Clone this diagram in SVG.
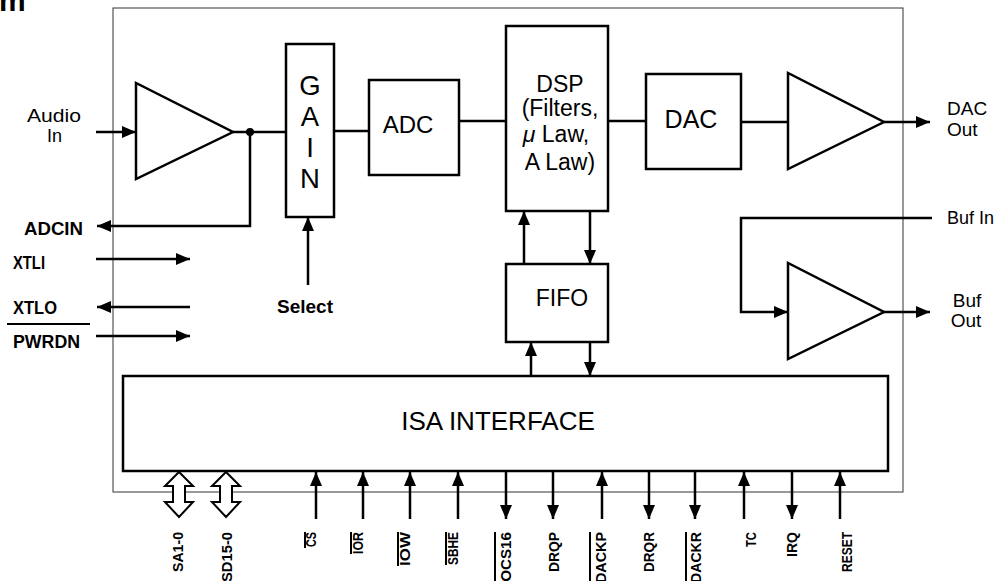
<svg xmlns="http://www.w3.org/2000/svg" width="1000" height="581" viewBox="0 0 1000 581">
<style>
.box{fill:#fff;stroke:#000;stroke-width:2.5}
.amp{fill:#fff;stroke:#000;stroke-width:2.5;stroke-linejoin:miter}
.w{fill:none;stroke:#000;stroke-width:2.5}
.bi{fill:#fff;stroke:#000;stroke-width:2;stroke-linejoin:miter}
.bar{stroke:#000;stroke-width:2}
text{font-family:"Liberation Sans",Arial,sans-serif;fill:#000}
.pin{font-size:14px;font-weight:bold;text-anchor:end}
.lbl{font-size:18px}
.lb{font-size:18px;font-weight:bold}
.big{font-size:24px;text-anchor:middle}
</style>
<defs>
<marker id="ah" viewBox="0 0 14 12" refX="14" refY="6" markerWidth="14" markerHeight="12" markerUnits="userSpaceOnUse" orient="auto"><path d="M0,0 L14,6 L0,12 z" fill="#000"/></marker>
</defs>
<rect width="1000" height="581" fill="#fff"/>
<text x="-1" y="11" style="font-size:30px;font-weight:bold">m</text>
<rect id="outline" x="113" y="8" width="790" height="484" fill="none" stroke="#333" stroke-width="1"/>

<g id="connectors">
<line class="w" x1="96" y1="132" x2="136" y2="132" marker-end="url(#ah)"/>
<line class="w" x1="233" y1="132" x2="286" y2="132"/>
<circle cx="250" cy="132" r="4" fill="#000"/>
<polyline class="w" points="250,132 250,226 97,226" marker-end="url(#ah)"/>
<line class="w" x1="96" y1="259" x2="190" y2="259" marker-end="url(#ah)"/>
<line class="w" x1="190" y1="307" x2="97" y2="307" marker-end="url(#ah)"/>
<line class="w" x1="96" y1="336" x2="190" y2="336" marker-end="url(#ah)"/>
<line class="w" x1="308" y1="285" x2="308" y2="217" marker-end="url(#ah)"/>
<line class="w" x1="334" y1="131" x2="369" y2="131"/>
<line class="w" x1="459" y1="121" x2="506" y2="121"/>
<line class="w" x1="608" y1="121" x2="646" y2="121"/>
<line class="w" x1="741" y1="122" x2="788" y2="122"/>
<line class="w" x1="884" y1="122" x2="930" y2="122" marker-end="url(#ah)"/>
<polyline class="w" points="932,218 741,218 741,312 788,312" marker-end="url(#ah)"/>
<line class="w" x1="884" y1="312" x2="930" y2="312" marker-end="url(#ah)"/>
<line class="w" x1="524" y1="264" x2="524" y2="211" marker-end="url(#ah)"/>
<line class="w" x1="590" y1="211" x2="590" y2="264" marker-end="url(#ah)"/>
<line class="w" x1="531" y1="376" x2="531" y2="342" marker-end="url(#ah)"/>
<line class="w" x1="590" y1="342" x2="590" y2="376" marker-end="url(#ah)"/>
<polygon class="bi" points="179,472 193,486 185,486 185,502 193,502 179,517 165,502 173,502 173,486 165,486"/>
<polygon class="bi" points="226,472 240,486 232,486 232,502 240,502 226,517 212,502 220,502 220,486 212,486"/>
<line class="w" x1="316" y1="519" x2="316" y2="472" marker-end="url(#ah)"/>
<line class="w" x1="363" y1="519" x2="363" y2="472" marker-end="url(#ah)"/>
<line class="w" x1="410" y1="519" x2="410" y2="472" marker-end="url(#ah)"/>
<line class="w" x1="458" y1="519" x2="458" y2="472" marker-end="url(#ah)"/>
<line class="w" x1="506" y1="472" x2="506" y2="519" marker-end="url(#ah)"/>
<line class="w" x1="553" y1="472" x2="553" y2="519" marker-end="url(#ah)"/>
<line class="w" x1="602" y1="519" x2="602" y2="472" marker-end="url(#ah)"/>
<line class="w" x1="649" y1="472" x2="649" y2="519" marker-end="url(#ah)"/>
<line class="w" x1="695" y1="472" x2="695" y2="519" marker-end="url(#ah)"/>
<line class="w" x1="744" y1="519" x2="744" y2="472" marker-end="url(#ah)"/>
<line class="w" x1="792" y1="472" x2="792" y2="519" marker-end="url(#ah)"/>
<line class="w" x1="840" y1="519" x2="840" y2="472" marker-end="url(#ah)"/>
</g>

<g id="amp-in"><polygon class="amp" points="136,83 136,179 233,132"/></g>
<g id="amp-dac"><polygon class="amp" points="788,73 788,169 884,122"/></g>
<g id="amp-buf"><polygon class="amp" points="788,263 788,359 884,312"/></g>

<g id="gain"><rect class="box" x="286" y="44" width="48" height="173"/>
<text class="big" style="font-size:27.5px"><tspan x="310" y="95">G</tspan><tspan x="310" y="126">A</tspan><tspan x="310" y="157">I</tspan><tspan x="310" y="188">N</tspan></text></g>

<g id="adc"><rect class="box" x="369" y="80" width="90" height="95"/>
<text class="big" x="408" y="133">ADC</text></g>

<g id="dsp"><rect class="box" x="506" y="26" width="102" height="185"/>
<text class="big" style="font-size:23px"><tspan x="560" y="92">DSP</tspan><tspan x="560" y="116">(Filters,</tspan><tspan x="556" y="142"><tspan style="font-style:italic">μ</tspan> Law,</tspan><tspan x="560" y="170">A Law)</tspan></text></g>

<g id="dac"><rect class="box" x="646" y="74" width="95" height="95"/>
<text class="big" x="691" y="128" style="font-size:25px">DAC</text></g>

<g id="fifo"><rect class="box" x="506" y="264" width="102" height="78"/>
<text class="big" x="562" y="306" style="font-size:23px">FIFO</text></g>

<g id="isa"><rect class="box" x="123" y="376" width="765" height="95"/>
<text class="big" x="498" y="430" style="font-size:26px">ISA INTERFACE</text></g>

<g id="left-labels">
<text class="lbl" x="27" y="122" textLength="54" lengthAdjust="spacingAndGlyphs">Audio</text>
<text class="lbl" x="47" y="142">In</text>
<text class="lb" x="24" y="235" textLength="59" lengthAdjust="spacingAndGlyphs">ADCIN</text>
<text class="lb" x="13" y="269" textLength="32" lengthAdjust="spacingAndGlyphs">XTLI</text>
<text class="lb" x="13" y="314" textLength="44" lengthAdjust="spacingAndGlyphs">XTLO</text>
<line class="bar" x1="7" y1="324" x2="90" y2="324"/>
<text class="lb" x="13" y="348" textLength="67" lengthAdjust="spacingAndGlyphs">PWRDN</text>
<text class="lb" x="277" y="313" style="font-size:19px" textLength="56" lengthAdjust="spacingAndGlyphs">Select</text>
</g>

<g id="right-labels">
<text class="lbl" x="947" y="115" style="font-size:19px">DAC</text>
<text class="lbl" x="947" y="136" style="font-size:19px">Out</text>
<text class="lbl" x="947" y="224" style="font-size:18px">Buf In</text>
<text class="lbl" x="967" y="307" text-anchor="middle" style="font-size:19px">Buf</text>
<text class="lbl" x="966" y="327" text-anchor="middle" style="font-size:19px">Out</text>
</g>

<g id="pin-labels">
<text class="pin" transform="translate(183,532) rotate(-90)" textLength="40" lengthAdjust="spacingAndGlyphs">SA1-0</text>
<text class="pin" transform="translate(232,532) rotate(-90)" textLength="50" lengthAdjust="spacingAndGlyphs">SD15-0</text>
<text class="pin" transform="translate(316,532) rotate(-90)" textLength="15" lengthAdjust="spacingAndGlyphs">CS</text>
<line class="bar" x1="305" y1="532" x2="305" y2="548"/>
<text class="pin" transform="translate(363,532) rotate(-90)" textLength="22" lengthAdjust="spacingAndGlyphs">IOR</text>
<line class="bar" x1="351" y1="532" x2="351" y2="554"/>
<text class="pin" transform="translate(410,532) rotate(-90)" textLength="34" lengthAdjust="spacingAndGlyphs">IOW</text>
<line class="bar" x1="398" y1="532" x2="398" y2="566"/>
<text class="pin" transform="translate(458,532) rotate(-90)" textLength="33" lengthAdjust="spacingAndGlyphs">SBHE</text>
<line class="bar" x1="446" y1="532" x2="446" y2="565"/>
<text class="pin" transform="translate(511,532) rotate(-90)" textLength="54" lengthAdjust="spacingAndGlyphs">IOCS16</text>
<line class="bar" x1="495" y1="532" x2="495" y2="581"/>
<text class="pin" transform="translate(559,532) rotate(-90)" textLength="40" lengthAdjust="spacingAndGlyphs">DRQP</text>
<text class="pin" transform="translate(606,532) rotate(-90)" textLength="51" lengthAdjust="spacingAndGlyphs">DACKP</text>
<line class="bar" x1="590" y1="532" x2="590" y2="581"/>
<text class="pin" transform="translate(654,532) rotate(-90)" textLength="40" lengthAdjust="spacingAndGlyphs">DRQR</text>
<text class="pin" transform="translate(701,532) rotate(-90)" textLength="51" lengthAdjust="spacingAndGlyphs">DACKR</text>
<line class="bar" x1="686" y1="532" x2="686" y2="581"/>
<text class="pin" transform="translate(756,532) rotate(-90)" textLength="15" lengthAdjust="spacingAndGlyphs">TC</text>
<text class="pin" transform="translate(797,532) rotate(-90)" textLength="25" lengthAdjust="spacingAndGlyphs">IRQ</text>
<text class="pin" transform="translate(852,532) rotate(-90)" textLength="40" lengthAdjust="spacingAndGlyphs">RESET</text>
</g>
</svg>
